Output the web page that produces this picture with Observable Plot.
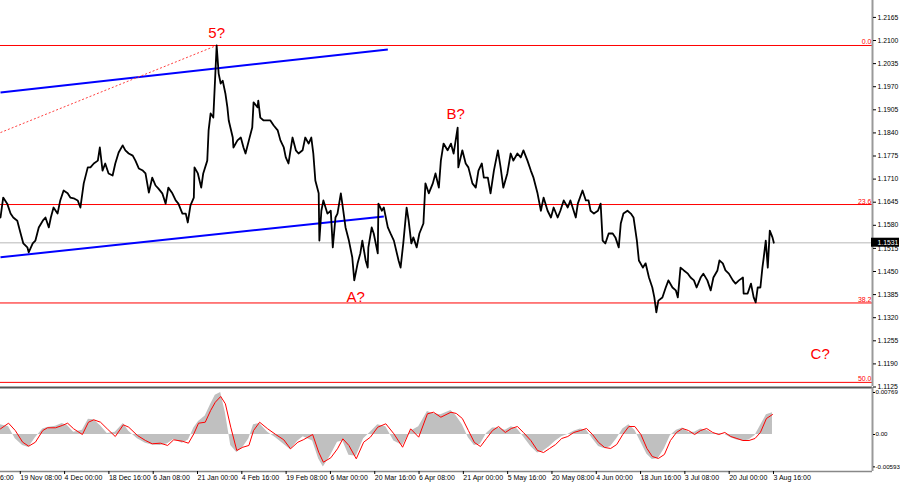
<!DOCTYPE html>
<html lang="en">
<head>
<meta charset="UTF-8">
<script src="https://cdn.jsdelivr.net/npm/d3@7"></script>
<script src="https://cdn.jsdelivr.net/npm/@observablehq/plot@0.6"></script>
<title>H4 waves</title>
<style>
    body { margin: 0; background: #fff; overflow: hidden; }
    #chart { width: 900px; position: relative; }
    #chart svg { display: block; }
</style>
</head>
<body>
<div id="chart"></div>
<script>
// price series, bar number -> close
const priceBar = [0,4,10,15,19,25,30,34,40,42,48,52,57,63,67,72,75,79,85,89,94,100,104,109,115,119,124,130,134,139,145,148,152,156,161,167,171,176,182,186,191,197,201,206,212,216,221,226,231,235,241,246,250,256,261,265,271,276,279,283,288,289,294,299,302,308,310,313,317,322,325,328,331,335,338,340,346,347,353,358,362,365,370,375,377,383,384,387,392,398,402,407,413,417,422,425,429,432,435,440,444,450,454,459,463,466,469,474,475,478,481,487,492,495,499,502,507,510,514,519,524,527,532,536,539,544,547,548,553,556,562,563,568,571,577,581,586,593,596,600,605,608,612,615,620,624,630,633,638,644,648,653,656,660,666,671,675,681,682,688,693,697,703,708,712,717,720,726,730,735,741,745,749,755,760,764,770,775,779,785,790,794,800,805,809,815,820,824,830,834,839,845,849,857,860,867,872,876,879,884,890,894,897,901,906,912,916,921,924,928,934,939,943,948,951,957,961,966,971,974,977,980,986,991,995,1001,1006,1009,1013,1018,1024,1028,1033,1037,1043,1047,1053,1058,1062,1068,1071,1076,1080,1085,1091,1095,1100,1106,1107,1113,1118,1122,1125,1128,1132,1135,1137,1140,1143,1146,1150,1152];
const priceClose = [1.1602,1.1658,1.1641,1.1613,1.1602,1.1593,1.1557,1.1529,1.1518,1.1504,1.1529,1.1537,1.1574,1.1593,1.1602,1.1574,1.1602,1.1630,1.1613,1.1650,1.1678,1.1670,1.1658,1.1656,1.1650,1.1630,1.1698,1.1743,1.1743,1.1754,1.1762,1.1799,1.1734,1.1754,1.1726,1.1720,1.1754,1.1785,1.1805,1.1791,1.1782,1.1776,1.1762,1.1740,1.1734,1.1726,1.1672,1.1714,1.1692,1.1684,1.1670,1.1641,1.1686,1.1670,1.1650,1.1641,1.1613,1.1613,1.1588,1.1636,1.1658,1.1743,1.1726,1.1686,1.1726,1.1762,1.1847,1.1895,1.1883,1.2086,1.2007,1.1979,1.1987,1.1951,1.1912,1.1875,1.1827,1.1799,1.1819,1.1827,1.1799,1.1782,1.1819,1.1855,1.1926,1.1912,1.1931,1.1883,1.1875,1.1875,1.1875,1.1861,1.1847,1.1819,1.1799,1.1771,1.1754,1.1791,1.1827,1.1791,1.1782,1.1791,1.1827,1.1810,1.1827,1.1782,1.1706,1.1670,1.1537,1.1621,1.1650,1.1613,1.1621,1.1518,1.1602,1.1613,1.1670,1.1630,1.1574,1.1537,1.1490,1.1425,1.1473,1.1501,1.1537,1.1481,1.1461,1.1518,1.1574,1.1557,1.1501,1.1641,1.1621,1.1630,1.1574,1.1557,1.1537,1.1481,1.1461,1.1529,1.1630,1.1593,1.1529,1.1546,1.1518,1.1557,1.1585,1.1698,1.1670,1.1698,1.1726,1.1686,1.1762,1.1810,1.1791,1.1810,1.1782,1.1855,1.1743,1.1791,1.1754,1.1743,1.1698,1.1686,1.1734,1.1754,1.1714,1.1714,1.1670,1.1734,1.1791,1.1743,1.1686,1.1726,1.1782,1.1762,1.1782,1.1771,1.1791,1.1762,1.1734,1.1714,1.1670,1.1621,1.1658,1.1621,1.1602,1.1630,1.1602,1.1621,1.1650,1.1630,1.1650,1.1602,1.1641,1.1678,1.1650,1.1650,1.1621,1.1613,1.1621,1.1641,1.1537,1.1529,1.1557,1.1557,1.1546,1.1518,1.1585,1.1613,1.1621,1.1613,1.1602,1.1537,1.1481,1.1461,1.1473,1.1433,1.1405,1.1377,1.1335,1.1368,1.1377,1.1405,1.1425,1.1405,1.1397,1.1377,1.1461,1.1453,1.1444,1.1433,1.1425,1.1405,1.1433,1.1444,1.1425,1.1397,1.1433,1.1453,1.1481,1.1473,1.1453,1.1444,1.1425,1.1416,1.1425,1.1433,1.1388,1.1388,1.1416,1.1377,1.1363,1.1405,1.1405,1.1461,1.1490,1.1537,1.1461,1.1565,1.1546,1.1531];

// oscillator (histogram + signal)
const oscBar = [0,12,22,33,42,52,63,70,82,92,100,109,122,131,139,149,159,171,183,191,204,216,226,238,249,258,271,280,288,295,305,313,320,328,335,343,352,361,370,377,386,398,410,422,432,443,451,465,474,481,492,502,510,519,530,541,551,562,574,586,599,611,623,636,645,656,671,679,688,697,706,715,724,733,742,752,761,770,779,790,800,809,818,827,836,845,854,864,873,882,891,900,909,918,927,936,945,954,963,971,980,989,998,1007,1016,1025,1034,1043,1052,1061,1070,1079,1088,1097,1106,1115,1124,1132,1141,1150];
const oscSignal = [0.00104,0.00207,0.00073,-0.00141,-0.00214,-0.00141,0.00073,0.00123,0.00123,0.00165,0.00207,0.00104,0,0.00225,0.00269,0.00225,0.00104,-0.00037,0.00178,0.00134,-0.00018,-0.00110,-0.00170,-0.00159,-0.00201,-0.00097,-0.00123,-0.00159,0.00013,0.00207,0.00225,0.00439,0.00591,0.00696,0.00562,0.00134,-0.00293,-0.00233,-0.00201,0.00073,0.00225,0.00104,0,-0.00097,-0.00262,-0.00141,-0.00097,0,-0.00324,-0.00507,-0.00427,-0.00262,-0.00079,-0.00201,-0.00445,-0.00141,-0.00049,0.00134,0.00196,0.00013,-0.00233,0.00104,-0.00049,0.00379,0.00408,0.00317,0.00408,0.00385,0.00293,0.00073,-0.00146,-0.00220,-0.00073,0.00073,0.00146,0.00037,0.00110,0.00146,0.00037,-0.00110,-0.00293,-0.00330,-0.00256,-0.00183,-0.00073,-0.00037,0.00037,0.00073,0.00110,0,-0.00146,-0.00238,-0.00256,-0.00183,0,0.00146,0.00146,0,-0.00256,-0.00403,-0.00439,-0.00366,-0.00110,0.00037,0.00110,0.00073,0,0.00073,0.00110,0.00037,0,0.00037,-0.00037,-0.00073,-0.00110,-0.00110,-0.00073,0.00037,0.00293,0.00366];
const oscHist = [0.0018,0.0014,-0.0008,-0.0020,-0.0024,-0.0006,0.0010,0.0013,0.0015,0.0020,0.0016,0.0004,0.0008,0.0028,0.0027,0.0016,0.0002,0.0004,0.0020,0.0006,-0.0008,-0.0016,-0.0019,-0.0020,-0.0017,-0.0009,-0.0016,-0.0010,0.0012,0.0024,0.0034,0.0055,0.0072,0.00769,0.0040,-0.0020,-0.0033,-0.0024,-0.0008,0.0018,0.0020,0.0004,-0.0006,-0.0018,-0.0028,-0.0012,-0.0004,-0.0012,-0.0045,-0.00593,-0.0038,-0.0014,-0.0012,-0.0038,-0.0040,-0.0008,0.0004,0.0018,0.0014,-0.0012,-0.0020,0.0006,0.0014,0.0042,0.0038,0.0036,0.0044,0.0034,0.0018,-0.0006,-0.0020,-0.0018,0.0002,0.0012,0.0012,0.0008,0.0014,0.0010,-0.0004,-0.0022,-0.0034,-0.0030,-0.0022,-0.0012,-0.0004,0,0.0006,0.0010,0.0008,-0.0008,-0.0022,-0.0026,-0.0022,-0.0008,0.0010,0.0018,0.0008,-0.0014,-0.0036,-0.0046,-0.0044,-0.0026,-0.0002,0.0008,0.0012,0.0004,0.0004,0.0010,0.0008,0.0002,0.0002,0,-0.0006,-0.0010,-0.0012,-0.0010,-0.0002,0.0016,0.0036,0.0040];

// levels, tick labels and annotations
const fibNames = ["0.0", "23.6", "38.2", "50.0"];
const fibPrice = [1.2086, 1.16385, 1.13615, 1.1138];
const bidPrice = 1.1531;
const priceTicks = [1.2165,1.2100,1.2035,1.1970,1.1905,1.1840,1.1775,1.1710,1.1645,1.1580,1.1515,1.1450,1.1385,1.1320,1.1255,1.1190,1.1125];
const oscTicks = [0.00769, 0, -0.00593];
const dateTickBar = [-38,28,94,160,226,292,358,424,490,556,622,688,754,820,886,952,1018,1084,1150];
const dateTickText = ["4 Nov 16:00","19 Nov 08:00","4 Dec 00:00","18 Dec 16:00","6 Jan 08:00","21 Jan 00:00","4 Feb 16:00","19 Feb 08:00","6 Mar 00:00","20 Mar 16:00","6 Apr 08:00","21 Apr 00:00","5 May 16:00","20 May 08:00","4 Jun 00:00","18 Jun 16:00","3 Jul 08:00","20 Jul 00:00","3 Aug 16:00"];
const waveText = ["5?", "A?", "B?", "C?"];
const waveBar = [322, 529, 678, 1221];
const wavePrice = [1.2120, 1.1377, 1.1892, 1.1217];
// channel lines and the dotted extension
const chanBar1 = [0, 0];
const chanPrice1 = [1.1954, 1.1490];
const chanBar2 = [577, 571];
const chanPrice2 = [1.2075, 1.1605];
const dotBar = [0, 322];
const dotPrice = [1.1841, 1.2086];

const xMax = 1299;
const font = "'Liberation Sans', Arial, sans-serif";
const red = "#ff0000";

const idx = d3.range(priceBar.length);
const oIdx = d3.range(oscBar.length);
const tickMap = new Map(dateTickBar.map((b, i) => [b, dateTickText[i]]));

const oscPlot = Plot.plot({
    width: 900,
    height: 99,
    marginTop: 1, marginBottom: 14, marginLeft: 0, marginRight: 28,
    style: {fontFamily: font, background: "white"},
    x: {domain: [0, xMax], axis: null},
    y: {domain: [-0.006775, 0.008607], axis: null},
    marks: [
        Plot.areaY(oIdx, {x: i => oscBar[i], y: i => oscHist[i], fill: "#c0c0c0"}),
        Plot.line(oIdx, {x: i => oscBar[i], y: i => oscSignal[i], stroke: red, strokeWidth: 1}),
        Plot.ruleY([0.008607], {stroke: "#555", strokeWidth: 2}),
        Plot.ruleY([-0.006775], {stroke: "#888", strokeWidth: 1.5}),
        Plot.ruleX([xMax], {stroke: "#999", strokeWidth: 2}),
        Plot.axisY({anchor: "right", ticks: oscTicks, tickFormat: d => d === 0 ? "0.00" : d.toFixed(5),
            tickSize: 2, tickPadding: 1, fontSize: 6.2, fill: "black"}),
        Plot.axisX({ticks: dateTickBar, tickFormat: d => tickMap.get(d), tickSize: 3, tickPadding: 1,
            textAnchor: "start", dx: 1, fontSize: 7, fill: "black"})
    ]
});

// drawn with visible overflow so its lowest tick label may spill over the panel border
const pricePlot = Plot.plot({
    width: 900,
    height: 386,
    marginTop: 0, marginBottom: 0, marginLeft: 0, marginRight: 28,
    style: {fontFamily: font, background: "white", overflow: "visible", position: "relative", zIndex: 1},
    x: {domain: [0, xMax], axis: null},
    y: {domain: [1.11264, 1.22126], axis: null},
    marks: [
        Plot.ruleY(fibPrice, {stroke: red, strokeWidth: 1}),
        Plot.ruleY([bidPrice], {stroke: "#cfcfcf", strokeWidth: 1.6}),
        Plot.link([0, 1], {x1: i => chanBar1[i], y1: i => chanPrice1[i], x2: i => chanBar2[i], y2: i => chanPrice2[i],
            stroke: "#0000ff", strokeWidth: 2}),
        Plot.link([0], {x1: dotBar[0], y1: dotPrice[0], x2: dotBar[1], y2: dotPrice[1],
            stroke: "#ff4040", strokeWidth: 1, strokeDasharray: "2,2"}),
        Plot.line(idx, {x: i => priceBar[i], y: i => priceClose[i], stroke: "black", strokeWidth: 1.8}),
        Plot.text(waveText, {x: (d, i) => waveBar[i], y: (d, i) => wavePrice[i], text: d => d,
            fill: red, fontSize: 15}),
        Plot.text(fibNames, {x: xMax, y: (d, i) => fibPrice[i], text: d => d, textAnchor: "end",
            lineAnchor: "bottom", dx: -1, dy: -1, fill: red, fontSize: 7}),
        Plot.ruleX([xMax], {stroke: "#999", strokeWidth: 2}),
        Plot.axisY({anchor: "right", ticks: priceTicks, tickFormat: d => d.toFixed(4), tickSize: 3,
            tickPadding: 2, fontSize: 6.8, fill: "black"}),
        Plot.rect([bidPrice], {x1: xMax, x2: xMax, y1: d => d, y2: d => d,
            insetLeft: -1, insetRight: -27, insetTop: -4.5, insetBottom: -4.5, fill: "black"}),
        Plot.text([bidPrice], {x: xMax, y: d => d, text: d => d.toFixed(4), textAnchor: "start",
            dx: 5, fill: "white", fontSize: 6.8})
    ]
});

const chart = document.querySelector("#chart");
chart.append(pricePlot);
chart.append(oscPlot);
</script>
</body>
</html>
